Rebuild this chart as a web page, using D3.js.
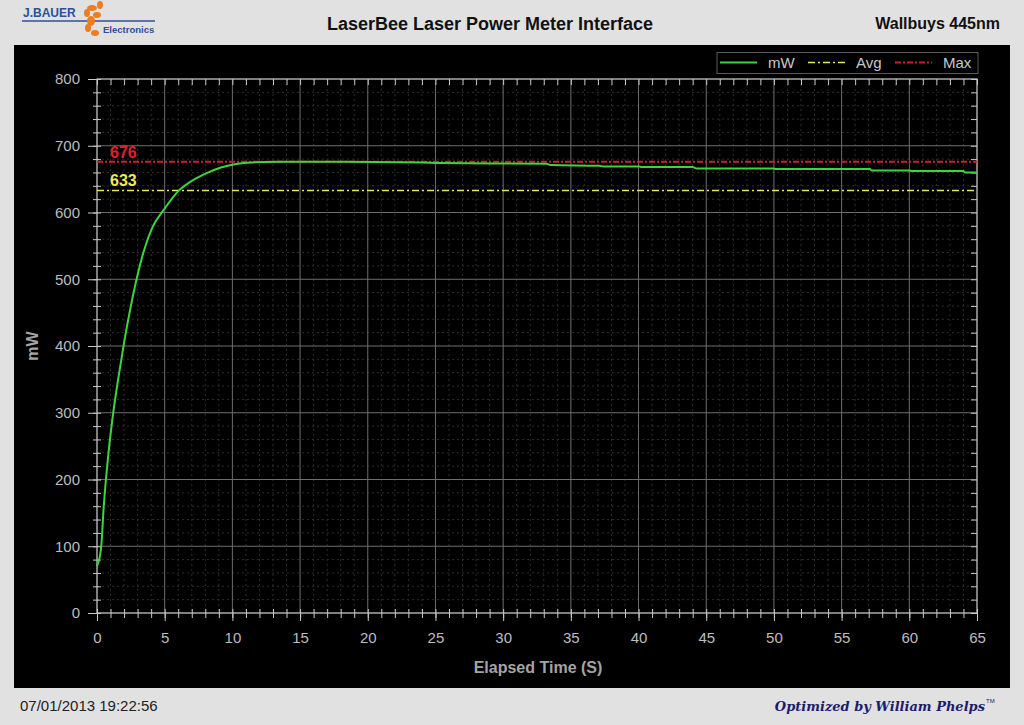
<!DOCTYPE html>
<html>
<head>
<meta charset="utf-8">
<script src="https://cdn.jsdelivr.net/npm/d3@7"></script>
<style>
  body { margin: 0; background: #e1e1e1; }
  svg { display: block; font-family: "Liberation Sans", Arial, sans-serif; }
</style>
</head>
<body>
<svg id="chart" width="1024" height="725"></svg>
<script>
// readings (seconds, mW) read from the capture
const timeS = [0, 0.3, 0.5, 0.85, 1.2, 1.6, 2.0, 2.5, 3.1, 3.5, 4.1, 5.0, 6.0, 6.9, 8.1, 9.1, 10.1, 11.5, 13.4, 17, 24, 25.3, 33.2, 33.5, 37.1, 37.4, 40.1, 40.2, 44, 44.3, 49.9, 50.2, 57.1, 57.2, 60, 60.2, 64, 64.1, 65];
const powerMW = [70, 97, 160, 240, 300, 355, 405, 460, 515, 545, 578, 606, 632, 646, 659, 667, 672, 675, 676, 676, 675, 674, 673, 671, 670, 669, 669, 668, 668, 666, 666, 665, 665, 663, 663, 662, 662, 660, 660];
const avgMW = 633;
const maxMW = 676;
const xTicks = [0, 5, 10, 15, 20, 25, 30, 35, 40, 45, 50, 55, 60, 65];
const yTicks = [0, 100, 200, 300, 400, 500, 600, 700, 800];
const legendItems = ["mW", "Avg", "Max"];

const data = timeS.map((t, i) => ({ t, v: powerMW[i] }));

const svg = d3.select("#chart");
const plot = { left: 97, right: 977, top: 79, bottom: 613 };

const x = d3.scaleLinear().domain([0, 65]).range([plot.left, plot.right]);
const y = d3.scaleLinear().domain([0, 800]).range([plot.bottom, plot.top]);

// header
svg.append("rect").attr("x", 0).attr("y", 0).attr("width", 1024).attr("height", 725).attr("fill", "#e1e1e1");
svg.append("text").attr("x", 490).attr("y", 30).attr("text-anchor", "middle")
  .style("font-size", "18px").style("font-weight", "bold").attr("fill", "#111")
  .text("LaserBee Laser Power Meter Interface");
svg.append("text").attr("x", 1000).attr("y", 29).attr("text-anchor", "end")
  .style("font-size", "16px").style("font-weight", "bold").attr("fill", "#111")
  .text("Wallbuys 445nm");

// logo
const logo = svg.append("g");
logo.append("text").attr("x", 23).attr("y", 17).style("font-size", "12px").style("font-weight", "bold")
  .attr("fill", "#2c4f9e").text("J.BAUER");
logo.append("line").attr("x1", 22).attr("x2", 155).attr("y1", 21).attr("y2", 21).attr("stroke", "#2c4f9e").attr("stroke-width", 1.5);
[[92, 8, 5, 3], [87, 13, 3, 4], [97, 15, 4, 3], [91, 21, 4, 5], [88, 28, 3, 4], [95, 33, 4, 3], [100, 5, 3, 4]].forEach(([cx, cy, rx, ry]) => {
  logo.append("ellipse").attr("cx", cx).attr("cy", cy).attr("rx", rx).attr("ry", ry).attr("fill", "#ee7d22");
});
logo.append("text").attr("x", 103).attr("y", 33).style("font-size", "9.5px").style("font-weight", "bold")
  .attr("fill", "#2c4f9e").text("Electronics");

// black panel
svg.append("rect").attr("x", 14).attr("y", 45).attr("width", 996).attr("height", 643).attr("fill", "#000");

// grid
const minorX = d3.range(0, 66).filter(d => d % 5 !== 0);
const minorY = d3.range(0, 801, 20).filter(d => d % 100 !== 0);
const grid = svg.append("g");
grid.selectAll(".mx").data(minorX).join("line")
  .attr("x1", d => x(d)).attr("x2", d => x(d)).attr("y1", plot.top).attr("y2", plot.bottom)
  .attr("stroke", "#2e2e2e").attr("stroke-dasharray", "2,3");
grid.selectAll(".my").data(minorY).join("line")
  .attr("x1", plot.left).attr("x2", plot.right).attr("y1", d => y(d)).attr("y2", d => y(d))
  .attr("stroke", "#2e2e2e").attr("stroke-dasharray", "2,3");
grid.selectAll(".gx").data(xTicks).join("line")
  .attr("x1", d => x(d)).attr("x2", d => x(d)).attr("y1", plot.top).attr("y2", plot.bottom)
  .attr("stroke", "#6e6e6e");
grid.selectAll(".gy").data(yTicks).join("line")
  .attr("x1", plot.left).attr("x2", plot.right).attr("y1", d => y(d)).attr("y2", d => y(d))
  .attr("stroke", "#6e6e6e");

// axes
function styleAxis(g) {
  g.selectAll("line").attr("stroke", "#c8c8c8");
  g.selectAll(".domain").remove();
  g.selectAll("text").attr("fill", "#bdbdbd").style("font-size", "15px")
    .style("font-family", "'Liberation Sans', Arial, sans-serif");
}
const minorXAll = d3.range(0, 66);
const minorYAll = d3.range(0, 801, 20);

svg.append("g").attr("transform", `translate(0,${plot.bottom - 4})`)
  .call(d3.axisBottom(x).tickValues(minorXAll).tickSize(9).tickFormat("")).call(styleAxis);
svg.append("g").attr("transform", `translate(0,${plot.bottom})`)
  .call(d3.axisBottom(x).tickValues(xTicks).tickSize(8).tickPadding(11)).call(styleAxis);
svg.append("g").attr("transform", `translate(${plot.left + 4},0)`)
  .call(d3.axisLeft(y).tickValues(minorYAll).tickSize(8).tickFormat("")).call(styleAxis);
svg.append("g").attr("transform", `translate(${plot.left},0)`)
  .call(d3.axisLeft(y).tickValues(yTicks).tickSize(9).tickPadding(8)).call(styleAxis);
svg.append("g").attr("transform", `translate(0,${plot.top})`)
  .call(d3.axisBottom(x).tickValues(minorXAll).tickSize(6).tickFormat("")).call(styleAxis);
svg.append("g").attr("transform", `translate(${plot.right},0)`)
  .call(d3.axisLeft(y).tickValues(minorYAll).tickSize(6).tickFormat("")).call(styleAxis);

svg.append("rect").attr("x", plot.left).attr("y", plot.top)
  .attr("width", plot.right - plot.left).attr("height", plot.bottom - plot.top)
  .attr("fill", "none").attr("stroke", "#c8c8c8");

// axis titles
svg.append("text").attr("transform", `translate(38,346) rotate(-90)`).attr("text-anchor", "middle")
  .style("font-size", "16px").style("font-weight", "bold").attr("fill", "#a4a4a4").text("mW");
svg.append("text").attr("x", 538).attr("y", 673).attr("text-anchor", "middle")
  .style("font-size", "16px").style("font-weight", "bold").attr("fill", "#a4a4a4").text("Elapsed Time (S)");

// reference lines
svg.append("line").attr("x1", plot.left).attr("x2", plot.right).attr("y1", y(maxMW)).attr("y2", y(maxMW))
  .attr("stroke", "#c8202c").attr("stroke-width", 1.8).attr("stroke-dasharray", "6,2,2,2");
svg.append("line").attr("x1", plot.left).attr("x2", plot.right).attr("y1", y(avgMW)).attr("y2", y(avgMW))
  .attr("stroke", "#e8e85a").attr("stroke-width", 1.5).attr("stroke-dasharray", "7,3,2,3");
svg.append("text").attr("x", 110).attr("y", y(maxMW) - 4).style("font-size", "16px").style("font-weight", "bold")
  .attr("fill", "#e2202c").text(maxMW);
svg.append("text").attr("x", 110).attr("y", y(avgMW) - 4).style("font-size", "16px").style("font-weight", "bold")
  .attr("fill", "#eded50").text(avgMW);

// power curve
const line = d3.line().x(d => x(d.t)).y(d => y(d.v)).curve(d3.curveMonotoneX);
svg.append("path").datum(data).attr("fill", "none").attr("stroke", "#3ed43e").attr("stroke-width", 2).attr("d", line);

// legend
const legend = svg.append("g");
legend.append("rect").attr("x", 717).attr("y", 52.5).attr("width", 261).attr("height", 21)
  .attr("fill", "#000").attr("stroke", "#5a5a5a");
const legendStyles = [
  { x: 720, color: "#3ed43e", dash: null, width: 2 },
  { x: 808, color: "#e8e85a", dash: "7,3,2,3", width: 1.5 },
  { x: 895, color: "#c8202c", dash: "6,2,2,2", width: 1.8 }
];
legendItems.forEach((name, i) => {
  const s = legendStyles[i];
  legend.append("line").attr("x1", s.x).attr("x2", s.x + 37).attr("y1", 62.5).attr("y2", 62.5)
    .attr("stroke", s.color).attr("stroke-width", s.width).attr("stroke-dasharray", s.dash);
  legend.append("text").attr("x", s.x + 48).attr("y", 68).style("font-size", "15px")
    .attr("fill", "#c8c8c8").text(name);
});

// footer
svg.append("text").attr("x", 20).attr("y", 711).style("font-size", "15px").attr("fill", "#222")
  .text("07/01/2013 19:22:56");
svg.append("text").attr("x", 985).attr("y", 711).attr("text-anchor", "end")
  .style("font-size", "13px").style("font-style", "italic").style("font-weight", "bold")
  .style("font-family", "'DejaVu Serif', serif").attr("fill", "#1c1c6e")
  .text("Optimized by William Phelps");
svg.append("text").attr("x", 986).attr("y", 703).style("font-size", "6px").attr("fill", "#1c1c6e").text("TM");
</script>
</body>
</html>
